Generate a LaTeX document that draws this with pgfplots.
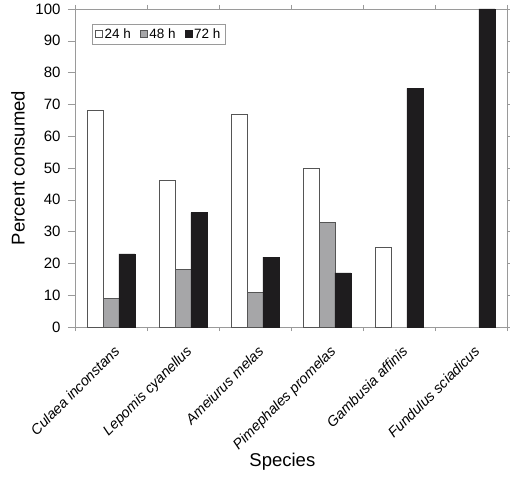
\documentclass[border=0pt]{standalone}
\usepackage{fontspec}
\setmainfont{Liberation Sans}
\usepackage{pgfplots}
\pgfplotsset{compat=1.18}
\usetikzlibrary{calc}
\definecolor{barw}{HTML}{FFFFFF}
\definecolor{barg}{HTML}{A6A6A8}
\definecolor{bark}{HTML}{1E1C1E}
\definecolor{edge}{HTML}{555555}
\definecolor{frame}{HTML}{9A9A9A}
\begin{document}
\begin{tikzpicture}
\begin{axis}[
  scale only axis,
  width=432pt, height=318pt,
  xmin=-0.5, xmax=5.5,
  ymin=0, ymax=100,
  ytick={0,10,...,100},
  xtick={0,...,5},
  xticklabels={Culaea inconstans,Lepomis cyanellus,Ameiurus melas,Pimephales promelas,Gambusia affinis,Fundulus sciadicus},
  xticklabel style={rotate=45, anchor=north east, font=\fontsize{14.4}{16}\selectfont\itshape, inner sep=1pt, yshift=-8pt, xshift=-5pt},
  yticklabel style={font=\fontsize{15}{17}\selectfont, xshift=-4pt},
  major x tick style={draw=none},
  minor xtick={-0.5,0.5,...,5.5},
  minor tick length=4pt,
  major tick length=7pt,
  tick align=outside,
  tick style={frame, line width=0.5pt},
  axis line style={frame, line width=0.8pt},
  /pgf/number format/assume math mode=true,
  ylabel={Percent consumed},
  xlabel={Species},
  label style={font=\fontsize{18.5}{21}\selectfont},
  ylabel style={at={(axis description cs:-0.108,0.5)}},
  xlabel style={at={(axis description cs:0.48,-0.385)}},
  ybar,
  bar width=0.222,
  legend columns=3,
  legend style={at={(0.039,0.952)}, anchor=north west, draw=frame, font=\fontsize{13.5}{15}\selectfont, inner xsep=3pt, inner ysep=2pt, /tikz/every even column/.append style={column sep=7pt}},
  legend image code/.code={\draw[#1, line width=0.5pt] (1pt,-3.5pt) rectangle (8pt,3.5pt);},
  legend cell align=left,
]
\addplot[fill=barw, draw=edge, bar shift=-0.222, line width=0.6pt] coordinates {(0,68) (1,46) (2,67) (3,50) (4,25)};
\addplot[fill=barg, draw=edge, bar shift=0, line width=0.6pt] coordinates {(0,9) (1,18) (2,11) (3,33)};
\addplot[fill=bark, draw=bark, bar shift=0.222, line width=0.6pt] coordinates {(0,23) (1,36) (2,22) (3,17) (4,75) (5,100)};
\legend{24 h,48 h,72 h}
\end{axis}
\pgfresetboundingbox
\path ($(current axis.south west)+(-75pt,-160pt)$) rectangle ($(current axis.north east)+(3pt,9pt)$);
\end{tikzpicture}
\end{document}
